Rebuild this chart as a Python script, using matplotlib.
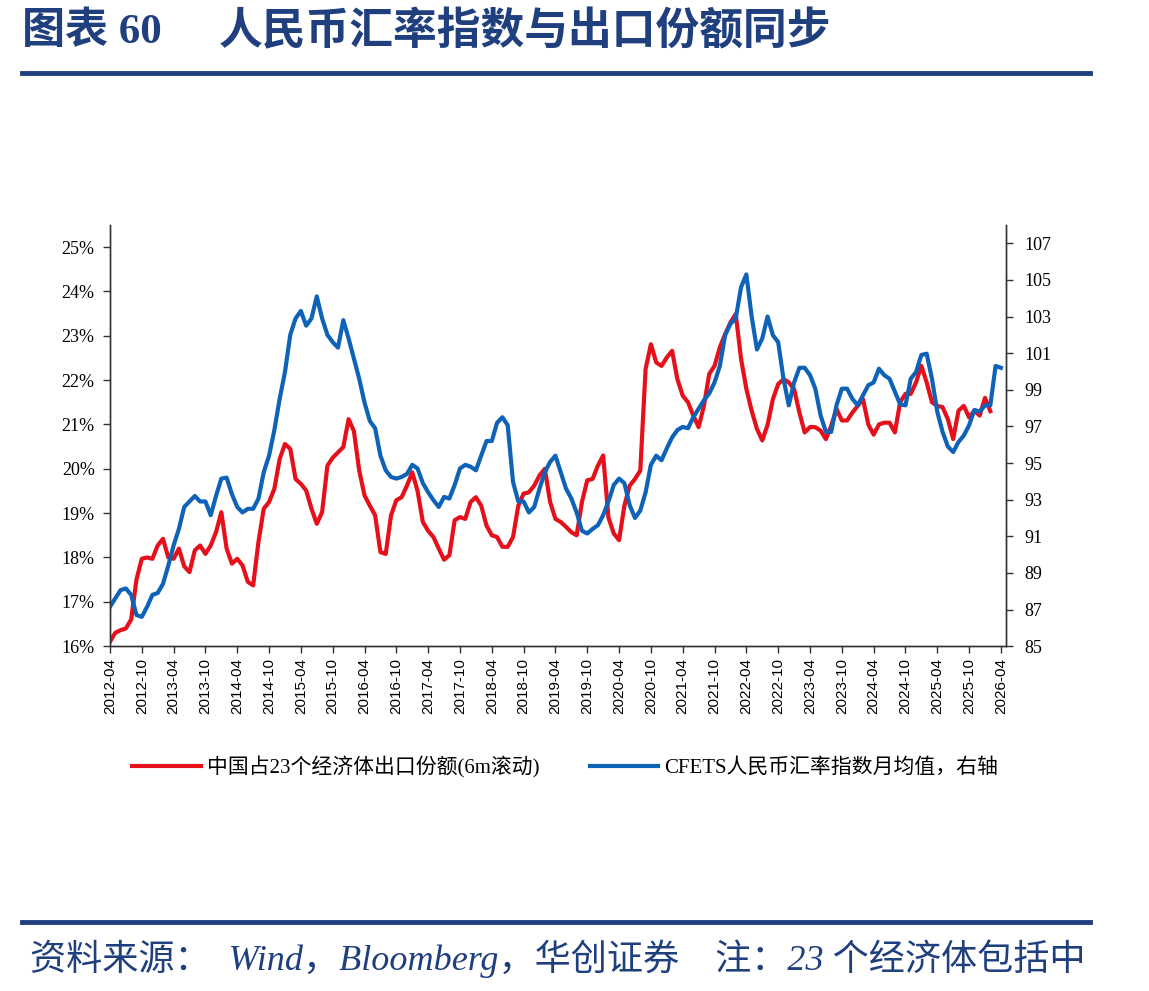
import numpy as np
import matplotlib.pyplot as plt

plt.rcParams['font.family'] = ['Liberation Serif', 'Noto Sans CJK SC']

# monthly, starting 2012-04
share = [16.1, 16.3, 16.36, 16.4, 16.6, 17.5, 17.97, 18.0, 17.97, 18.27,
         18.42, 18.0, 17.97, 18.2, 17.8, 17.67, 18.16, 18.27, 18.08, 18.27,
         18.57, 19.02, 18.2, 17.86, 17.97, 17.82, 17.45, 17.37, 18.35, 19.1,
         19.25, 19.55, 20.22, 20.56, 20.45, 19.77, 19.66, 19.51, 19.1, 18.76,
         19.02, 20.07, 20.25, 20.37, 20.49, 21.12, 20.85, 19.96, 19.4, 19.17,
         18.95, 18.12, 18.08, 18.95, 19.29, 19.36, 19.62, 19.92, 19.5, 18.8,
         18.6, 18.46, 18.2, 17.95, 18.05, 18.84, 18.91, 18.87, 19.25, 19.36,
         19.17, 18.72, 18.5, 18.46, 18.24, 18.24, 18.46, 19.17, 19.44, 19.47,
         19.62, 19.85, 20.0, 19.25, 18.87, 18.8, 18.69, 18.57, 18.5, 19.25,
         19.74, 19.77, 20.07, 20.3, 18.9, 18.54, 18.39, 19.17, 19.62, 19.77,
         19.96, 22.25, 22.81, 22.4, 22.32, 22.51, 22.66, 22.02, 21.65, 21.5,
         21.2, 20.94, 21.42, 22.14, 22.32, 22.74, 23.04, 23.3, 23.49, 22.48,
         21.8, 21.31, 20.9, 20.64, 20.99, 21.57, 21.91, 22.02, 21.95, 21.8,
         21.27, 20.82, 20.94, 20.94, 20.86, 20.67, 20.97, 21.35, 21.09, 21.09,
         21.27, 21.42, 21.57, 21.0, 20.77, 21.0, 21.04, 21.04, 20.82, 21.5,
         21.69, 21.69, 21.95, 22.32, 21.95, 21.5, 21.42, 21.39, 21.12, 20.67,
         21.31, 21.42, 21.16, 21.31, 21.2, 21.6, 21.3]

cfets = [87.15, 87.6, 88.06, 88.15, 87.8, 86.7, 86.6, 87.15, 87.8, 87.9,
         88.4, 89.4, 90.5, 91.4, 92.6, 92.9, 93.2, 92.9, 92.9, 92.15,
         93.2, 94.15, 94.2, 93.3, 92.6, 92.3, 92.5, 92.5, 93.05, 94.5,
         95.4, 96.8, 98.5, 99.97, 102.0, 102.9, 103.3, 102.5, 102.9, 104.1,
         102.9, 102.0, 101.6, 101.3, 102.8, 101.8, 100.7, 99.6, 98.3, 97.3,
         96.9, 95.4, 94.6, 94.24, 94.15, 94.24, 94.4, 94.9, 94.7, 93.9,
         93.4, 92.97, 92.6, 93.15, 93.06, 93.8, 94.7, 94.9, 94.8, 94.6,
         95.4, 96.2, 96.2, 97.2, 97.5, 97.06, 93.97, 92.9, 92.9, 92.3,
         92.6, 93.6, 94.5, 95.06, 95.4, 94.5, 93.6, 93.06, 92.3, 91.3,
         91.15, 91.4, 91.6, 92.15, 92.9, 93.8, 94.15, 93.9, 92.7, 92.0,
         92.4, 93.4, 94.9, 95.4, 95.15, 95.8, 96.4, 96.8, 96.97, 96.9,
         97.5, 97.97, 98.43, 98.8, 99.4, 100.3, 101.98, 102.6, 102.9, 104.6,
         105.3, 103.0, 101.2, 101.8, 103.0, 101.98, 101.6, 99.6, 98.15, 99.4,
         100.2, 100.2, 99.8, 99.06, 97.6, 96.7, 96.7, 98.15, 99.06, 99.06,
         98.5, 98.15, 98.7, 99.25, 99.4, 100.15, 99.8, 99.6, 98.9, 98.2,
         98.15, 99.6, 99.97, 100.9, 100.97, 99.6, 97.8, 96.7, 95.9, 95.6,
         96.15, 96.5, 97.06, 97.9, 97.8, 98.15, 98.15, 100.3, 100.2]

xlabels = ['2012-04', '2012-10', '2013-04', '2013-10', '2014-04', '2014-10',
           '2015-04', '2015-10', '2016-04', '2016-10', '2017-04', '2017-10',
           '2018-04', '2018-10', '2019-04', '2019-10', '2020-04', '2020-10',
           '2021-04', '2021-10', '2022-04', '2022-10', '2023-04', '2023-10',
           '2024-04', '2024-10', '2025-04', '2025-10', '2026-04']

left_ticks = [16, 17, 18, 19, 20, 21, 22, 23, 24, 25]
right_ticks = [85, 87, 89, 91, 93, 95, 97, 99, 101, 103, 105, 107]

navy = '#1F3F7F'
red = '#E5101A'
blue = '#0E62B8'

fig = plt.figure(figsize=(11.49, 9.91), dpi=100)
ax = fig.add_axes([0.0957, 0.348, 0.7798, 0.425])
ax2 = ax.twinx()

x1 = np.arange(len(share))
x2 = np.arange(len(cfets))
l1, = ax.plot(x1, share, color=red, lw=3, solid_joinstyle='round',
              label='中国占23个经济体出口份额(6m滚动)')
l2, = ax2.plot(x2, cfets, color=blue, lw=3, solid_joinstyle='round',
               label='CFETS人民币汇率指数月均值，右轴')

ax.set_xlim(0, 168.95)
ax.set_ylim(16, 25.5)
ax2.set_ylim(85, 108)
ax.set_xticks(np.arange(0, 169, 6))
ax.set_xticklabels(xlabels, rotation=90, family='Liberation Sans', fontsize=11)
ax.set_yticks(left_ticks)
ax.set_yticklabels([f'{v}%' for v in left_ticks], fontsize=13)
ax2.set_yticks(right_ticks)
ax2.set_yticklabels([str(v) for v in right_ticks], fontsize=13)

for a in (ax, ax2):
    a.spines['top'].set_visible(False)
    for s in a.spines.values():
        s.set_color('#333333')
        s.set_linewidth(1)
    a.tick_params(direction='out', length=5, width=1, color='#333333')
ax.tick_params(axis='y', pad=6)
ax2.tick_params(axis='y', pad=8)

fig.legend(handles=[l1, l2], loc='center', bbox_to_anchor=(0.492, 0.226),
           ncol=2, frameon=False, fontsize=15, handlelength=3.3,
           columnspacing=2.4, handletextpad=0.3)

fig.text(0.019, 0.968, '图表 60', color=navy,
         fontsize=31, fontweight='bold', va='center', ha='left')
fig.text(0.19, 0.968, '人民币汇率指数与出口份额同步', color=navy,
         fontsize=31.5, fontweight='bold', va='center', ha='left')
fig.add_artist(plt.Line2D([0.019, 0.949], [0.926, 0.926], color=navy, lw=3.5))
fig.add_artist(plt.Line2D([0.019, 0.949], [0.0696, 0.0696], color=navy, lw=3.5))
fig.text(0.026, 0.033, '资料来源：  Wind，Bloomberg，华创证券    注：23 个经济体包括中',
         color=navy, fontsize=26, style='italic', va='center', ha='left')

fig.savefig('out.png', dpi=100)
